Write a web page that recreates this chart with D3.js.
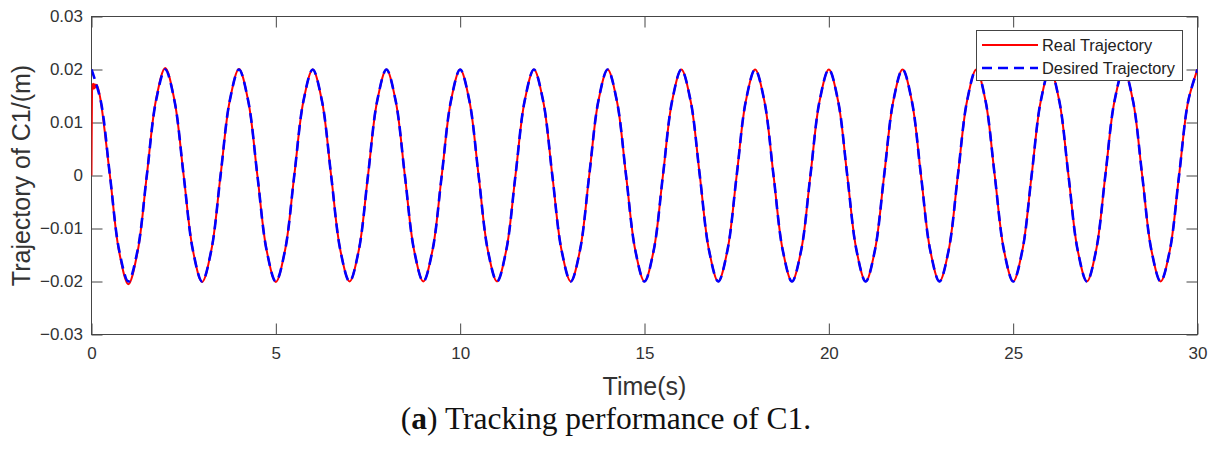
<!DOCTYPE html>
<html>
<head>
<meta charset="utf-8">
<script src="https://cdn.jsdelivr.net/npm/d3@7"></script>
<style>
  html, body { margin: 0; padding: 0; background: #fff; }
  svg { display: block; }
</style>
</head>
<body>
<svg id="chart" width="1216" height="456"></svg>
<script>
// ---- data ----
const time = [0,0.25,0.5,0.75,1,1.25,1.5,1.75,2,2.25,2.5,2.75,3,3.25,3.5,3.75,4,4.25,4.5,4.75,5,5.25,5.5,5.75,6,6.25,6.5,6.75,7,7.25,7.5,7.75,8,8.25,8.5,8.75,9,9.25,9.5,9.75,10,10.25,10.5,10.75,11,11.25,11.5,11.75,12,12.25,12.5,12.75,13,13.25,13.5,13.75,14,14.25,14.5,14.75,15,15.25,15.5,15.75,16,16.25,16.5,16.75,17,17.25,17.5,17.75,18,18.25,18.5,18.75,19,19.25,19.5,19.75,20,20.25,20.5,20.75,21,21.25,21.5,21.75,22,22.25,22.5,22.75,23,23.25,23.5,23.75,24,24.25,24.5,24.75,25,25.25,25.5,25.75,26,26.25,26.5,26.75,27,27.25,27.5,27.75,28,28.25,28.5,28.75,29,29.25,29.5,29.75,30];

const desired = [
  0.02,0.0141,0,-0.0141,-0.02,-0.0141,0,0.0141,
  0.02,0.0141,0,-0.0141,-0.02,-0.0141,0,0.0141,
  0.02,0.0141,0,-0.0141,-0.02,-0.0141,0,0.0141,
  0.02,0.0141,0,-0.0141,-0.02,-0.0141,0,0.0141,
  0.02,0.0141,0,-0.0141,-0.02,-0.0141,0,0.0141,
  0.02,0.0141,0,-0.0141,-0.02,-0.0141,0,0.0141,
  0.02,0.0141,0,-0.0141,-0.02,-0.0141,0,0.0141,
  0.02,0.0141,0,-0.0141,-0.02,-0.0141,0,0.0141,
  0.02,0.0141,0,-0.0141,-0.02,-0.0141,0,0.0141,
  0.02,0.0141,0,-0.0141,-0.02,-0.0141,0,0.0141,
  0.02,0.0141,0,-0.0141,-0.02,-0.0141,0,0.0141,
  0.02,0.0141,0,-0.0141,-0.02,-0.0141,0,0.0141,
  0.02,0.0141,0,-0.0141,-0.02,-0.0141,0,0.0141,
  0.02,0.0141,0,-0.0141,-0.02,-0.0141,0,0.0141,
  0.02,0.0141,0,-0.0141,-0.02,-0.0141,0,0.0141,
  0.02
];

const realTime = [0,0.01,0.02,0.03,0.05,0.07,0.09,0.11,0.14,0.18,0.25,0.5,0.75,1,1.25,1.5,1.75,2,2.25,2.5,2.75,3,3.25,3.5,3.75,4,4.25,4.5,4.75,5,5.25,5.5,5.75,6,6.25,6.5,6.75,7,7.25,7.5,7.75,8,8.25,8.5,8.75,9,9.25,9.5,9.75,10,10.25,10.5,10.75,11,11.25,11.5,11.75,12,12.25,12.5,12.75,13,13.25,13.5,13.75,14,14.25,14.5,14.75,15,15.25,15.5,15.75,16,16.25,16.5,16.75,17,17.25,17.5,17.75,18,18.25,18.5,18.75,19,19.25,19.5,19.75,20,20.25,20.5,20.75,21,21.25,21.5,21.75,22,22.25,22.5,22.75,23,23.25,23.5,23.75,24,24.25,24.5,24.75,25,25.25,25.5,25.75,26,26.25,26.5,26.75,27,27.25,27.5,27.75,28,28.25,28.5,28.75,29,29.25,29.5,29.75,30];

const real = [
  0,0.012,0.0172,0.0162,0.0173,0.0164,0.0172,0.0166,0.0171,0.0164,
  0.0141,0,-0.0144,-0.0205,-0.0144,0,0.0143,
  0.0203,0.0142,0,-0.0141,-0.0201,-0.0141,0,0.0141,
  0.0201,0.0141,0,-0.0141,-0.0201,-0.0141,0,0.0141,
  0.02,0.0141,0,-0.0141,-0.02,-0.0141,0,0.0141,
  0.02,0.0141,0,-0.0141,-0.02,-0.0141,0,0.0141,
  0.02,0.0141,0,-0.0141,-0.02,-0.0141,0,0.0141,
  0.02,0.0141,0,-0.0141,-0.02,-0.0141,0,0.0141,
  0.02,0.0141,0,-0.0141,-0.02,-0.0141,0,0.0141,
  0.02,0.0141,0,-0.0141,-0.02,-0.0141,0,0.0141,
  0.02,0.0141,0,-0.0141,-0.02,-0.0141,0,0.0141,
  0.02,0.0141,0,-0.0141,-0.02,-0.0141,0,0.0141,
  0.02,0.0141,0,-0.0141,-0.02,-0.0141,0,0.0141,
  0.02,0.0141,0,-0.0141,-0.02,-0.0141,0,0.0141,
  0.02,0.0141,0,-0.0141,-0.02,-0.0141,0,0.0141,
  0.02,0.0141,0,-0.0141,-0.02,-0.0141,0,0.0141,
  0.02
];

const xTicks = [0,5,10,15,20,25,30];
const yTicks = [-0.03,-0.02,-0.01,0,0.01,0.02,0.03];
const yTickLabels = ["\u22120.03","\u22120.02","\u22120.01","0","0.01","0.02","0.03"];
const seriesNames = ["Real Trajectory","Desired Trajectory"];

// ---- layout ----
const padL = 91.5, padR = 1197.5, padT = 16.5, padB = 334.5;
const axisColor = "#454545", textColor = "#333";
const sansFont = "Arial, 'Liberation Sans', Helvetica, sans-serif";

const svg = d3.select("#chart");
const x = d3.scaleLinear().domain([0,30]).range([padL,padR]);
const y = d3.scaleLinear().domain([-0.03,0.03]).range([padB,padT]);

svg.append("defs").append("clipPath").attr("id","plotclip")
  .append("rect").attr("x",padL).attr("y",padT-2).attr("width",padR-padL).attr("height",padB-padT+4);

// axes
function styleAxis(g){
  g.select(".domain").remove();
  g.selectAll(".tick line").attr("stroke",axisColor).attr("stroke-width",1);
  g.selectAll(".tick text").attr("fill",textColor).style("font-family",sansFont).style("font-size","17px");
}
svg.append("g").attr("transform",`translate(0,${padB})`)
  .call(d3.axisBottom(x).tickValues(xTicks).tickSizeInner(-11).tickSizeOuter(0).tickPadding(12.5).tickFormat(d3.format("d")))
  .call(styleAxis);
svg.append("g").attr("transform",`translate(0,${padT})`)
  .call(d3.axisTop(x).tickValues(xTicks).tickSizeInner(-11).tickSizeOuter(0).tickFormat(""))
  .call(styleAxis);
svg.append("g").attr("transform",`translate(${padL},0)`)
  .call(d3.axisLeft(y).tickValues(yTicks).tickSizeInner(-11).tickSizeOuter(0).tickPadding(8.5)
    .tickFormat((d,i)=>yTickLabels[i]))
  .call(styleAxis);
svg.append("g").attr("transform",`translate(${padR},0)`)
  .call(d3.axisRight(y).tickValues(yTicks).tickSizeInner(-11).tickSizeOuter(0).tickFormat(""))
  .call(styleAxis);

// box
svg.append("rect").attr("x",padL).attr("y",padT).attr("width",padR-padL).attr("height",padB-padT)
  .attr("fill","none").attr("stroke",axisColor).attr("stroke-width",1);

// lines
const lineGen = d3.line().x(d=>x(d[0])).y(d=>y(d[1])).curve(d3.curveCatmullRom.alpha(0.5));
const plot = svg.append("g").attr("clip-path","url(#plotclip)");
plot.append("path").datum(realTime.map((t,i)=>[t,real[i]]))
  .attr("d",lineGen).attr("fill","none").attr("stroke","#ff0000").attr("stroke-width",2)
  .attr("stroke-linejoin","round");
plot.append("path").datum(time.map((t,i)=>[t,desired[i]]))
  .attr("d",lineGen).attr("fill","none").attr("stroke","#0000ff").attr("stroke-width",2.6)
  .attr("stroke-dasharray","10,6");

// legend
const lg = svg.append("g");
lg.append("rect").attr("x",976.5).attr("y",30.5).attr("width",206).attr("height",50)
  .attr("fill","#fff").attr("stroke","#444").attr("stroke-width",1);
const legendItems = [
  {name: seriesNames[0], color:"#ff0000", dash:null, w:2},
  {name: seriesNames[1], color:"#0000ff", dash:"10,6", w:2.6}
];
legendItems.forEach((it,i)=>{
  const ly = 45 + i*23;
  lg.append("line").attr("x1",982).attr("x2",1038).attr("y1",ly).attr("y2",ly)
    .attr("stroke",it.color).attr("stroke-width",it.w).attr("stroke-dasharray",it.dash);
  lg.append("text").attr("x",1042).attr("y",ly).attr("dy","0.35em")
    .attr("fill","#222").style("font-family",sansFont).style("font-size","16.4px").text(it.name);
});

// axis labels
svg.append("text").attr("x",(padL+padR)/2).attr("y",395).attr("text-anchor","middle")
  .attr("fill",textColor).style("font-family",sansFont).style("font-size","25px").text("Time(s)");
svg.append("text").attr("transform",`translate(30,${(padT+padB)/2}) rotate(-90)`).attr("text-anchor","middle")
  .attr("fill",textColor).style("font-family",sansFont).style("font-size","25px").text("Trajectory of C1/(m)");

// caption
const cap = svg.append("text").attr("x",606).attr("y",429).attr("text-anchor","middle")
  .attr("fill","#111").style("font-family","'Liberation Serif', 'DejaVu Serif', serif").style("font-size","31.5px");
cap.append("tspan").text("(");
cap.append("tspan").style("font-weight","bold").text("a");
cap.append("tspan").text(") Tracking performance of C1.");
</script>
</body>
</html>
